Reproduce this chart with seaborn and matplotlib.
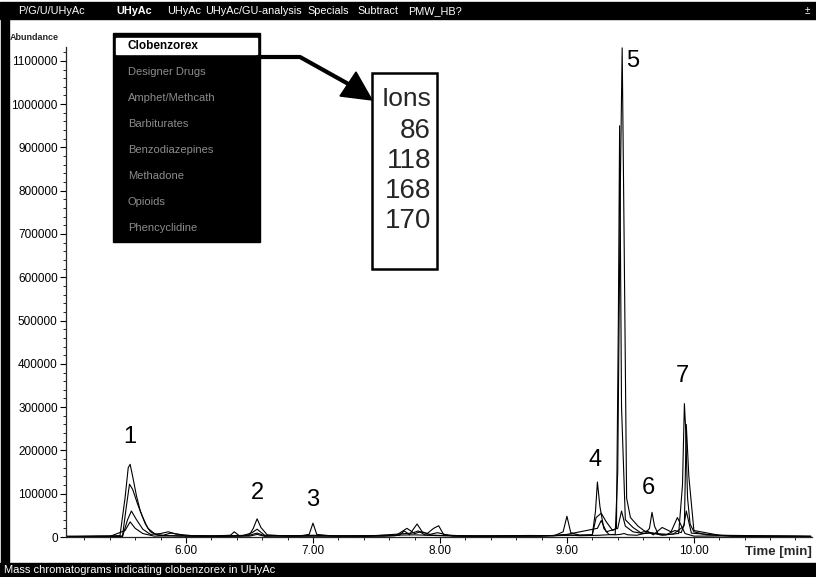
import matplotlib
matplotlib.use("Agg")
import matplotlib.pyplot as plt
from matplotlib.patches import Rectangle, Polygon
from matplotlib.lines import Line2D
from matplotlib.ticker import MultipleLocator
import pandas as pd
import seaborn as sns

sns.set_style("ticks")
plt.rcParams["font.family"] = ["Liberation Sans", "DejaVu Sans"]

W_PX, H_PX = 816, 577

# ion traces (time in min, abundance)
ion86_time = [5.06, 5.20, 5.35, 5.48, 5.52, 5.545, 5.56, 5.58, 5.61, 5.64, 5.68, 5.72,
              5.78, 5.85, 5.95, 6.10, 6.30, 6.50, 6.56, 6.62, 6.80, 7.00, 7.20, 7.50,
              7.80, 8.00, 8.30, 8.60, 8.90, 9.00, 9.10, 9.25, 9.38, 9.40, 9.42, 9.435,
              9.45, 9.47, 9.50, 9.56, 9.62, 9.70, 9.80, 9.88, 9.91, 9.925, 9.935, 9.95,
              9.97, 10.00, 10.10, 10.30, 10.50, 10.70, 10.92]
ion86_abund = [2000, 1500, 2500, 3000, 90000, 160000, 168000, 140000, 95000, 60000, 30000, 12000,
               4000, 3000, 2000, 3000, 2500, 4000, 9000, 3000, 2500, 3000, 2000, 3500,
               5000, 3000, 2500, 3000, 3000, 5000, 3000, 4000, 6000, 150000, 800000, 1130000,
               700000, 90000, 45000, 25000, 12000, 8000, 6000, 8000, 120000, 308000, 250000, 90000,
               30000, 12000, 5000, 3000, 2500, 2000, 1500]

ion118_time = [5.06, 5.20, 5.40, 5.50, 5.53, 5.555, 5.58, 5.62, 5.66, 5.70, 5.76, 5.82,
               5.88, 5.95, 6.05, 6.20, 6.35, 6.38, 6.42, 6.50, 6.53, 6.56, 6.59, 6.64,
               6.75, 6.90, 6.97, 7.00, 7.03, 7.15, 7.35, 7.55, 7.68, 7.72, 7.76, 7.79,
               7.82, 7.86, 7.90, 7.95, 7.99, 8.03, 8.15, 8.40, 8.70, 8.90, 8.97, 9.00,
               9.03, 9.10, 9.20, 9.225, 9.24, 9.26, 9.29, 9.33, 9.38, 9.42, 9.45, 9.48,
               9.55, 9.62, 9.65, 9.67, 9.69, 9.72, 9.78, 9.85, 9.90, 9.925, 9.94, 9.96,
               10.00, 10.20, 10.50, 10.80, 10.92]
ion118_abund = [1000, 2000, 1500, 2500, 70000, 122000, 110000, 75000, 45000, 20000, 6000, 4000,
                9000, 6000, 3000, 2500, 4000, 12000, 3000, 5000, 20000, 42000, 22000, 5000,
                3000, 2500, 6000, 32000, 6000, 2500, 3000, 2000, 4000, 14000, 5000, 18000,
                30000, 12000, 8000, 20000, 26000, 5000, 3000, 2500, 3500, 3000, 12000, 48000,
                10000, 4000, 5000, 60000, 127000, 70000, 20000, 6000, 5000, 6000, 8000, 5000,
                4000, 9000, 20000, 57000, 25000, 6000, 5000, 15000, 10000, 30000, 260000, 140000,
                15000, 4000, 3000, 2500, 2000]

ion168_time = [5.06, 5.30, 5.50, 5.54, 5.57, 5.61, 5.66, 5.72, 5.80, 5.86, 5.92, 6.00,
               6.20, 6.45, 6.52, 6.56, 6.62, 6.80, 7.10, 7.40, 7.65, 7.74, 7.80, 7.85,
               7.92, 7.98, 8.10, 8.40, 8.80, 9.20, 9.23, 9.27, 9.31, 9.36, 9.39, 9.405,
               9.415, 9.43, 9.46, 9.52, 9.58, 9.63, 9.68, 9.75, 9.82, 9.87, 9.93, 10.00,
               10.30, 10.60, 10.92]
ion168_abund = [500, 1500, 1000, 40000, 60000, 40000, 18000, 6000, 8000, 12000, 7000, 2000,
                1500, 3000, 10000, 18000, 4000, 1500, 2000, 1500, 3000, 20000, 8000, 12000,
                6000, 10000, 2000, 1500, 2500, 5000, 45000, 55000, 35000, 15000, 20000, 500000,
                950000, 300000, 40000, 22000, 10000, 14000, 5000, 22000, 12000, 45000, 8000, 2000,
                2500, 1000, 800]

ion170_time = [5.06, 5.40, 5.52, 5.56, 5.60, 5.66, 5.75, 5.90, 6.20, 6.50, 6.56, 6.62,
               7.00, 7.40, 7.78, 7.83, 7.88, 8.20, 8.80, 9.00, 9.24, 9.27, 9.31, 9.40,
               9.43, 9.46, 9.52, 9.60, 9.67, 9.75, 9.84, 9.92, 9.94, 9.98, 10.30, 10.92]
ion170_abund = [800, 1200, 15000, 35000, 20000, 8000, 2000, 3000, 1000, 2000, 6000, 1500,
                4000, 1200, 9000, 14000, 5000, 1500, 1800, 6000, 20000, 38000, 12000, 20000,
                60000, 25000, 12000, 8000, 9000, 4000, 7000, 25000, 60000, 9000, 1500, 800]

peak_ids = ["1", "2", "3", "4", "5", "6", "7"]
peak_label_time = [5.56, 6.56, 7.00, 9.22, 9.52, 9.64, 9.91]
peak_label_abund = [230000, 102000, 86000, 178000, 1100000, 113000, 372000]

ions = ["86", "118", "168", "170"]
menu_items = ["P/G/U/UHyAc", "UHyAc", "UHyAc", "UHyAc/GU-analysis", "Specials", "Subtract", "PMW_HB?"]
drop_items = ["Clobenzorex", "Designer Drugs", "Amphet/Methcath", "Barbiturates",
              "Benzodiazepines", "Methadone", "Opioids", "Phencyclidine"]


def fx(x):
    return x / W_PX


def fy(y):
    return 1 - y / H_PX


frames = []
for ion, t, a in [("86", ion86_time, ion86_abund), ("118", ion118_time, ion118_abund),
                  ("168", ion168_time, ion168_abund), ("170", ion170_time, ion170_abund)]:
    frames.append(pd.DataFrame({"time": t, "abundance": a, "ion": ion}))
df = pd.concat(frames, ignore_index=True)

fig = plt.figure(figsize=(W_PX / 100, H_PX / 100), dpi=100)
ax_l, ax_r, ax_t, ax_b = 66, 812, 47, 537
ax = fig.add_axes([fx(ax_l), fy(ax_b), fx(ax_r) - fx(ax_l), fy(ax_t) - fy(ax_b)])

sns.lineplot(data=df, x="time", y="abundance", units="ion", estimator=None,
             color="black", linewidth=0.8, ax=ax, legend=False)

ax.set_xlim(5.055, 10.93)
ax.set_ylim(0, 1132000)
ax.set_xlabel("")
ax.set_ylabel("")
sns.despine(ax=ax)
ax.spines["left"].set_linewidth(0.9)
ax.spines["bottom"].set_linewidth(0.9)

ax.xaxis.set_minor_locator(MultipleLocator(0.2))
ax.yaxis.set_minor_locator(MultipleLocator(20000))
ax.set_xticks([6, 7, 8, 9, 10])
ax.set_xticklabels(["6.00", "7.00", "8.00", "9.00", "10.00"])
ax.set_yticks(range(0, 1100001, 100000))
ax.set_yticklabels([str(v) for v in range(0, 1100001, 100000)])
ax.tick_params(axis="both", which="major", direction="out", length=4, width=0.8,
               labelsize=8.5, pad=2, colors="black")
ax.tick_params(axis="both", which="minor", direction="out", length=2.5, width=0.7)

for lab, t, a in zip(peak_ids, peak_label_time, peak_label_abund):
    ax.text(t, a, lab, fontsize=17, ha="center", va="center", color="black")

# screenshot decorations
fig.patches.append(Rectangle((0, fy(19)), 1, fy(2) - fy(19), transform=fig.transFigure,
                             color="black", zorder=0))
fig.patches.append(Rectangle((0, 0), 1, fy(563), transform=fig.transFigure,
                             color="black", zorder=0))
fig.patches.append(Rectangle((fx(1), fy(563)), fx(8), fy(19) - fy(563), transform=fig.transFigure,
                             color="black", zorder=0))

menu_x = [18, 116, 167, 205, 307, 357, 408]
for i, (item, x) in enumerate(zip(menu_items, menu_x)):
    fig.text(fx(x), fy(11), item, color="white", fontsize=7.8, va="center", ha="left",
             fontweight="bold" if i == 1 else "normal")
fig.text(fx(810), fy(11), "±", color="white", fontsize=7, va="center", ha="right")

fig.text(fx(4), fy(570), "Mass chromatograms indicating clobenzorex in UHyAc",
         color="white", fontsize=8, va="center", ha="left")

fig.text(fx(10), fy(37), "Abundance", fontsize=6.5, fontweight="bold", va="center", ha="left")
fig.text(fx(812), fy(552), "Time [min]", fontsize=9.5, fontweight="bold", va="center", ha="right")

# dropdown menu
fig.patches.append(Rectangle((fx(113), fy(242)), fx(260) - fx(113), fy(33) - fy(242),
                             transform=fig.transFigure, color="black", zorder=3))
fig.patches.append(Rectangle((fx(116), fy(54)), fx(257) - fx(116), fy(38) - fy(54),
                             transform=fig.transFigure, color="white", zorder=4))
for i, item in enumerate(drop_items):
    y = 46 + i * 26
    if i == 0:
        fig.text(fx(128), fy(y), item, fontsize=8.5, fontweight="bold", color="black",
                 va="center", ha="left", zorder=5)
    else:
        fig.text(fx(128), fy(y), item, fontsize=8, color="#8c8c8c",
                 va="center", ha="left", zorder=5)

# arrow from menu to ion box
fig.lines.append(Line2D([fx(258), fx(300), fx(352)], [fy(57), fy(57), fy(86)],
                        transform=fig.transFigure, color="black", linewidth=3, zorder=6))
fig.patches.append(Polygon([(fx(372), fy(100)), (fx(340), fy(96)), (fx(356), fy(72))],
                           closed=True, transform=fig.transFigure, color="black", zorder=6))

# ion box
fig.patches.append(Rectangle((fx(372), fy(269)), fx(437) - fx(372), fy(73) - fy(269),
                             transform=fig.transFigure, facecolor="white", edgecolor="black",
                             linewidth=1.8, zorder=6))
fig.text(fx(432), fy(99), "Ions", fontsize=19, va="center", ha="right", zorder=7)
for i, ion in enumerate(ions):
    fig.text(fx(431), fy(131 + i * 30), ion, fontsize=20, va="center", ha="right", zorder=7)

fig.savefig("out.png", dpi=100)
